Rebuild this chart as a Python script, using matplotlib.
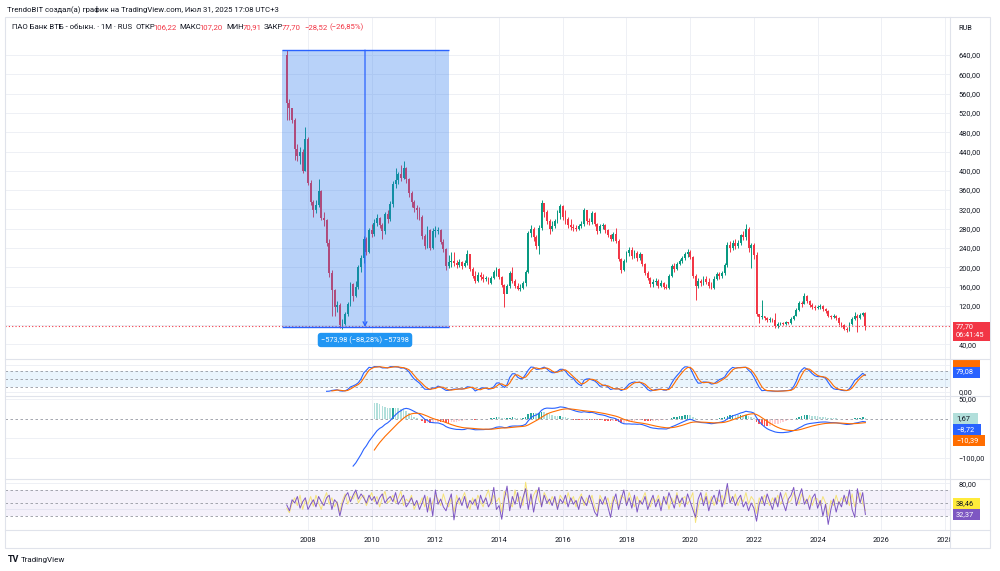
import numpy as np
import pandas as pd
import matplotlib
matplotlib.use("Agg")
import matplotlib.pyplot as plt
from matplotlib.patches import Rectangle
from matplotlib.transforms import Bbox, TransformedBbox

plt.rcParams['font.family'] = ['Roboto', 'DejaVu Sans']

# monthly candles, May 2007 .. Jul 2025 (open = previous close)
first_open = 640.0
close = [540, 530, 505, 445, 430, 440, 400, 465, 375, 335,
         318, 330, 358, 302, 298, 250, 188, 152, 118, 122,
         80, 82, 103, 124, 165, 140, 160, 200, 220, 258,
         232, 278, 270, 292, 302, 288, 275, 310, 300, 332,
         372, 380, 393, 385, 405, 382, 355, 335, 322, 318,
         305, 265, 245, 278, 240, 275, 275, 278, 252, 238,
         202, 210, 212, 208, 205, 210, 202, 208, 228, 196,
         182, 172, 185, 180, 176, 178, 168, 178, 190, 197,
         180, 164, 145, 162, 188, 172, 162, 156, 158, 168,
         190, 272, 280, 262, 245, 282, 334, 314, 296, 280,
         286, 296, 312, 328, 305, 300, 288, 284, 282, 280,
         285, 290, 318, 296, 294, 312, 290, 275, 285, 288,
         278, 266, 258, 270, 255, 218, 194, 213, 230, 236,
         224, 230, 220, 228, 206, 188, 178, 165, 170, 172,
         162, 168, 160, 158, 182, 202, 196, 206, 214, 220,
         228, 232, 222, 182, 162, 172, 168, 176, 170, 162,
         158, 176, 186, 182, 188, 204, 246, 240, 250, 244,
         250, 266, 262, 280, 240, 246, 226, 104, 96, 98,
         95, 90, 92, 90, 78, 83, 84, 83, 86, 85,
         92, 100, 112, 126, 124, 140, 130, 122, 118, 116,
         118, 120, 114, 110, 98, 96, 100, 94, 84, 80,
         72, 70, 82, 92, 100, 94, 102, 106.22, 77.70]
high = [650, 548, 530, 510, 455, 450, 445, 490, 470, 380,
        340, 340, 382, 360, 315, 300, 258, 195, 155, 130,
        125, 92, 108, 128, 170, 168, 172, 205, 225, 265,
        262, 282, 290, 300, 310, 305, 292, 315, 318, 338,
        378, 405, 398, 412, 420, 408, 385, 358, 340, 330,
        325, 308, 270, 285, 280, 282, 285, 283, 280, 258,
        240, 225, 232, 232, 215, 218, 212, 216, 235, 228,
        200, 192, 190, 190, 186, 182, 180, 182, 194, 200,
        199, 182, 166, 165, 192, 200, 175, 168, 165, 172,
        194, 276, 288, 284, 266, 288, 340, 332, 318, 300,
        296, 300, 318, 332, 330, 318, 305, 300, 290, 288,
        290, 295, 322, 318, 302, 316, 314, 292, 290, 292,
        290, 280, 270, 274, 282, 258, 220, 218, 234, 242,
        242, 236, 234, 232, 228, 208, 192, 180, 176, 178,
        176, 174, 170, 166, 186, 206, 208, 210, 218, 224,
        232, 238, 236, 224, 186, 178, 176, 182, 182, 178,
        170, 182, 190, 190, 192, 208, 252, 255, 256, 258,
        256, 270, 276, 290, 284, 250, 250, 232, 104, 132,
        100, 96, 96, 95, 105, 86, 86, 86, 88, 87,
        96, 102, 115, 130, 130, 146, 142, 132, 125, 122,
        121, 124, 122, 116, 112, 102, 104, 102, 96, 86,
        82, 76, 86, 96, 108, 104, 106, 108, 107.20]
low = [505, 505, 500, 422, 420, 415, 395, 400, 370, 330,
       305, 312, 325, 298, 285, 245, 180, 98, 100, 108,
       74, 72, 80, 100, 120, 130, 138, 155, 190, 208,
       225, 230, 262, 265, 285, 282, 258, 270, 292, 296,
       325, 365, 372, 378, 382, 375, 345, 325, 315, 300,
       298, 258, 238, 240, 235, 238, 262, 268, 248, 232,
       195, 198, 200, 203, 198, 200, 196, 200, 205, 192,
       178, 168, 170, 174, 170, 172, 165, 166, 176, 182,
       176, 160, 118, 148, 158, 168, 158, 152, 150, 154,
       162, 188, 262, 255, 238, 228, 278, 305, 290, 270,
       275, 282, 292, 300, 298, 290, 282, 278, 276, 275,
       278, 282, 286, 290, 288, 290, 286, 270, 272, 280,
       272, 262, 254, 254, 250, 212, 188, 192, 210, 224,
       218, 220, 214, 216, 202, 184, 174, 160, 160, 164,
       158, 160, 156, 154, 156, 180, 190, 194, 204, 208,
       216, 222, 218, 178, 132, 158, 162, 164, 166, 158,
       154, 156, 174, 176, 178, 184, 200, 232, 236, 238,
       240, 246, 256, 256, 232, 198, 218, 100, 84, 92,
       90, 86, 86, 86, 74, 74, 80, 80, 80, 82,
       82, 90, 98, 110, 118, 124, 126, 118, 114, 112,
       113, 114, 110, 106, 96, 92, 94, 90, 80, 76,
       70, 66, 68, 80, 90, 66, 92, 98, 70.91]

# bottom oscillator pane
osc_purple = [47, 38, 55, 50, 60, 42, 52, 58, 40, 48,
              55, 44, 60, 52, 46, 58, 62, 40, 55, 50,
              30, 48, 60, 66, 52, 62, 70, 56, 64, 58,
              50, 62, 54, 60, 48, 58, 64, 50, 56, 60,
              52, 66, 48, 55, 62, 44, 50, 58, 46, 54,
              40, 50, 62, 36, 58, 30, 70, 48, 56, 44,
              38, 52, 64, 24, 50, 58, 46, 60, 42, 54,
              48, 56, 40, 62, 50, 58, 44, 52, 74, 40,
              46, 25, 56, 76, 38, 60, 48, 66, 42, 58,
              72, 40, 64, 36, 58, 74, 44, 62, 50, 56,
              46, 60, 40, 56, 50, 62, 44, 58, 48, 54,
              40, 60, 52, 46, 62, 50, 36, 30, 56, 48,
              60, 44, 28, 52, 64, 40, 56, 70, 46, 58,
              42, 62, 36, 54, 48, 60, 40, 52, 62, 44,
              56, 38, 60, 48, 66, 54, 42, 62, 50, 58,
              44, 64, 52, 40, 28, 56, 66, 46, 60, 38,
              54, 62, 48, 70, 44, 58, 80, 50, 60, 46,
              56, 62, 44, 52, 38, 50, 42, 22, 48, 60,
              46, 64, 52, 40, 58, 44, 66, 50, 38, 56,
              62, 74, 46, 60, 72, 48, 56, 40, 58, 64,
              42, 54, 30, 48, 17, 40, 56, 36, 52, 44,
              62, 48, 70, 40, 28, 72, 50, 66, 32.37]
osc_yellow = [42, 35, 50, 58, 46, 62, 40, 55, 48, 60,
              45, 62, 50, 40, 56, 66, 48, 58, 44, 52,
              36, 54, 64, 48, 60, 56, 66, 50, 58, 62,
              46, 56, 66, 52, 60, 44, 58, 68, 50, 54,
              62, 50, 58, 68, 46, 56, 52, 62, 40, 50,
              48, 58, 44, 60, 38, 52, 62, 56, 46, 64,
              50, 44, 58, 36, 62, 48, 56, 66, 50, 40,
              58, 46, 62, 52, 44, 60, 70, 48, 62, 52,
              58, 36, 68, 62, 50, 44, 70, 52, 60, 46,
              82, 56, 48, 62, 70, 54, 46, 66, 58, 48,
              60, 52, 44, 62, 56, 48, 66, 52, 60, 44,
              56, 64, 46, 58, 50, 62, 44, 36, 62, 54,
              48, 58, 40, 60, 52, 46, 62, 58, 50, 66,
              54, 44, 60, 48, 56, 66, 50, 44, 58, 52,
              62, 46, 54, 60, 40, 58, 50, 66, 44, 56,
              60, 48, 56, 66, 20, 44, 58, 52, 66, 48,
              60, 46, 58, 52, 62, 48, 72, 60, 52, 64,
              46, 58, 52, 66, 48, 60, 54, 34, 58, 50,
              62, 54, 46, 58, 50, 62, 48, 56, 66, 50,
              54, 66, 58, 48, 64, 56, 50, 62, 46, 58,
              56, 46, 60, 50, 30, 54, 46, 62, 48, 58,
              52, 60, 46, 64, 44, 58, 66, 50, 38.46]

years = [2008, 2010, 2012, 2014, 2016, 2018, 2020, 2022, 2024, 2026, 2028]
price_ticks = [40, 120, 160, 200, 240, 280, 320, 360, 400, 440, 480, 520, 560, 600, 640]
price_grid = list(range(40, 680, 40))

box_top, box_bottom = 650.2, 76.2
box_left, box_right, arrow_t = 2007.184, 2012.427, 2009.79
measure_text = "−573,98 (−88,28%) −57398"
last_price = 77.70

header1 = "TrendoBIT создал(а) график на TradingView.com, Июл 31, 2025 17:08 UTC+3"
dark, red = "#131722", "#f23645"
# (text, colour, gap in px before it)
header2 = [("ПАО Банк ВТБ - обыкн. · 1M · RUS", dark, 0), ("ОТКР", dark, 3), ("106,22", red, -1.5),
           ("МАКС", dark, 3), ("107,20", red, -1.5), ("МИН", dark, 3), ("70,91", red, -1.5),
           ("ЗАКР", dark, 3), ("77,70", red, -1.5), ("−28,52", red, 3), ("(−26,85%)", red, 2)]

# ---------------------------------------------------------------
c = np.array(close, float)
h = np.array(high, float)
l = np.array(low, float)
o = np.concatenate([[first_open], c[:-1]])
n = len(c)
t = 2007 + 4 / 12 + np.arange(n) / 12


def ema(x, length):
    x = np.asarray(x, float)
    out = np.full(len(x), np.nan)
    start = int(np.argmax(~np.isnan(x)))
    out[start + length - 1] = x[start:start + length].mean()
    a = 2 / (length + 1)
    for i in range(start + length, len(x)):
        out[i] = a * x[i] + (1 - a) * out[i - 1]
    return out


macd = ema(c, 12) - ema(c, 26)
signal = ema(macd, 9)
hist = macd - signal

s_c = pd.Series(c)
ll = pd.Series(l).rolling(14).min()
hh = pd.Series(h).rolling(14).max()
raw_k = 100 * (s_c - ll) / (hh - ll)
k = raw_k.rolling(3).mean()
d = k.rolling(3).mean()

W, H = 1000, 571
fig = plt.figure(figsize=(10, 5.71), dpi=100)
fig.patch.set_facecolor("white")


def fx(x):
    return x / W


def fy(y):
    return 1 - y / H


def pane(top, bot, left=5, right=950):
    return fig.add_axes([fx(left), fy(bot), (right - left) / W, (bot - top) / H])


X0, X1 = 1998.487, 2028.157
grid_c = "#eef0f5"
lvl_c = "#9598a1"


def fmt(v):
    return f"{v:.2f}".replace(".", ",").replace("-", "−")


def style(ax, ylim, ticks, hgrid):
    ax.set_xlim(X0, X1)
    ax.set_ylim(*ylim)
    ax.set_facecolor("none")
    for s in ax.spines.values():
        s.set_visible(False)
    ax.set_xticks(years)
    ax.set_xticklabels([])
    ax.yaxis.tick_right()
    ax.set_yticks(ticks)
    ax.set_yticklabels([fmt(v) for v in ticks])
    ax.tick_params(length=0, labelsize=5.3, colors=dark, pad=6)
    ax.grid(axis="x", color=grid_c, lw=0.7)
    for g in hgrid:
        ax.axhline(g, color=grid_c, lw=0.7, zorder=0)
    ax.set_axisbelow(True)


# main price pane
ax = pane(17, 359)
style(ax, (9.9, 718.8), price_ticks, price_grid)
up = c >= o
cols = np.where(up, "#089981", "#f23645")
ax.vlines(t, l, h, color=cols, lw=0.7, zorder=2)
ax.bar(t, np.maximum(np.abs(c - o), 1.5), bottom=np.minimum(o, c), width=0.058,
       color=cols, linewidth=0, zorder=2)
ax.axhline(last_price, color="#f23645", lw=0.8, ls=(0, (1, 2)), zorder=2)

ax.add_patch(Rectangle((box_left, box_bottom), box_right - box_left, box_top - box_bottom,
                       facecolor="#2978ed", alpha=0.33, edgecolor="none", zorder=3))
ax.hlines([box_top, box_bottom], box_left, box_right, color="#2962ff", lw=1.0, zorder=4)
ax.annotate("", xy=(arrow_t, box_bottom), xytext=(arrow_t, box_top),
            arrowprops=dict(arrowstyle="->", color="#2962ff", lw=0.9,
                            shrinkA=0, shrinkB=0, mutation_scale=7), zorder=4)
ax.text(arrow_t, 49.3, measure_text, ha="center", va="center", color="white", fontsize=5.3,
        zorder=5, bbox=dict(boxstyle="round,pad=0.45", fc="#2196f3", ec="none"))

# stochastic pane
ax_s = pane(359, 396)
style(ax_s, (-15.0, 123.6), [0], [0, 100])
ax_s.axhspan(20, 80, color="#2196f3", alpha=0.09, lw=0)
for lv in (80, 50, 20):
    ax_s.axhline(lv, color=lvl_c, lw=0.6, ls=(0, (3, 3)))
ax_s.plot(t, k, color="#2962ff", lw=0.8)
ax_s.plot(t, d, color="#ff6d00", lw=0.8)

# MACD pane
ax_m = pane(396, 479)
style(ax_m, (-153.6, 57.6), [50, -100], [50, -50, -100])
hcols = []
for i in range(n):
    if np.isnan(hist[i]):
        hcols.append("none")
        continue
    prev = hist[i - 1] if i > 0 and not np.isnan(hist[i - 1]) else hist[i]
    if hist[i] >= 0:
        hcols.append("#26a69a" if hist[i] > prev else "#b2dfdb")
    else:
        hcols.append("#ff5252" if hist[i] < prev else "#ffcdd2")
ax_m.bar(t, np.nan_to_num(hist), width=0.05, color=hcols, linewidth=0)
ax_m.axhline(0, color=lvl_c, lw=0.6, ls=(0, (3, 3)))
ax_m.plot(t, macd, color="#2962ff", lw=0.8)
ax_m.plot(t, signal, color="#ff6d00", lw=0.8)

# bottom oscillator pane
ax_r = pane(479, 530)
style(ax_r, (8.46, 86.9), [80], [80, 40])
ax_r.axhspan(30, 70, color="#7e57c2", alpha=0.08, lw=0)
for lv in (70, 50, 30):
    ax_r.axhline(lv, color=lvl_c, lw=0.6, ls=(0, (3, 3)))
ax_r.plot(t, osc_yellow, color="#f5e27a", lw=0.7)
ax_r.plot(t, osc_purple, color="#7e57c2", lw=0.7)
ax_r.set_xticklabels([str(y) for y in years])
ax_r.tick_params(axis="x", pad=5)
clip = TransformedBbox(Bbox([[0, 0], [fx(950), 1]]), fig.transFigure)
for lab in ax_r.get_xticklabels():
    lab.set_clip_box(clip)
    lab.set_clip_on(True)

# frame and separators
fig.add_artist(Rectangle((fx(5), fy(548)), 985 / W, 531 / H, transform=fig.transFigure,
                         fill=False, ec="#e0e3eb", lw=0.8))
fig.add_artist(plt.Line2D([fx(950), fx(950)], [fy(17), fy(548)], color="#e0e3eb", lw=0.8))
for yy in (359, 396, 479, 530):
    fig.add_artist(plt.Line2D([fx(5), fx(990)], [fy(yy), fy(yy)], color="#e0e3eb", lw=0.8))


def tag(y, text, fc, tc, w=27, hgt=11, x0=953):
    fig.add_artist(Rectangle((fx(x0), fy(y + hgt / 2)), w / W, hgt / H,
                             transform=fig.transFigure, fc=fc, ec="none"))
    if text:
        fig.text(fx(x0 + 3), fy(y), text, color=tc, fontsize=5.3, va="center", ha="left")


# price label
fig.add_artist(Rectangle((fx(953), fy(341)), 37 / W, 19 / H, transform=fig.transFigure,
                         fc="#f23645", ec="none"))
fig.text(fx(956), fy(326.5), "77,70", color="white", fontsize=5.3, va="center")
fig.text(fx(956), fy(335.5), "06:41:45", color="white", fontsize=5.3, va="center")
fig.text(fx(958), fy(28), "RUB", color=dark, fontsize=5.3, va="center")

tag(363.5, "", "#ff6d00", "white", hgt=7)
tag(372, "79,08", "#2962ff", "white")
tag(418.5, "1,67", "#b2dfdb", dark, w=25)
tag(429.5, "−8,72", "#2962ff", "white", w=28)
tag(440.5, "−10,39", "#ff6d00", "white", w=32)
tag(503.5, "38,46", "#ffeb3b", dark)
tag(514.5, "32,37", "#7e57c2", "white")

# header texts
fig.text(fx(7), fy(9), header1, color=dark, fontsize=5.6, va="center")
renderer = fig.canvas.get_renderer()
x = 12
for s, col, gap in header2:
    x += gap
    txt = fig.text(fx(x), fy(27), s, color=col, fontsize=5.6, va="center")
    x += txt.get_window_extent(renderer).width

fig.text(fx(8), fy(560), "TV", color=dark, fontsize=6.5, fontweight="bold", va="center")
fig.text(fx(21), fy(560), "TradingView", color=dark, fontsize=5.8, va="center")

fig.savefig("out.png", dpi=100)
